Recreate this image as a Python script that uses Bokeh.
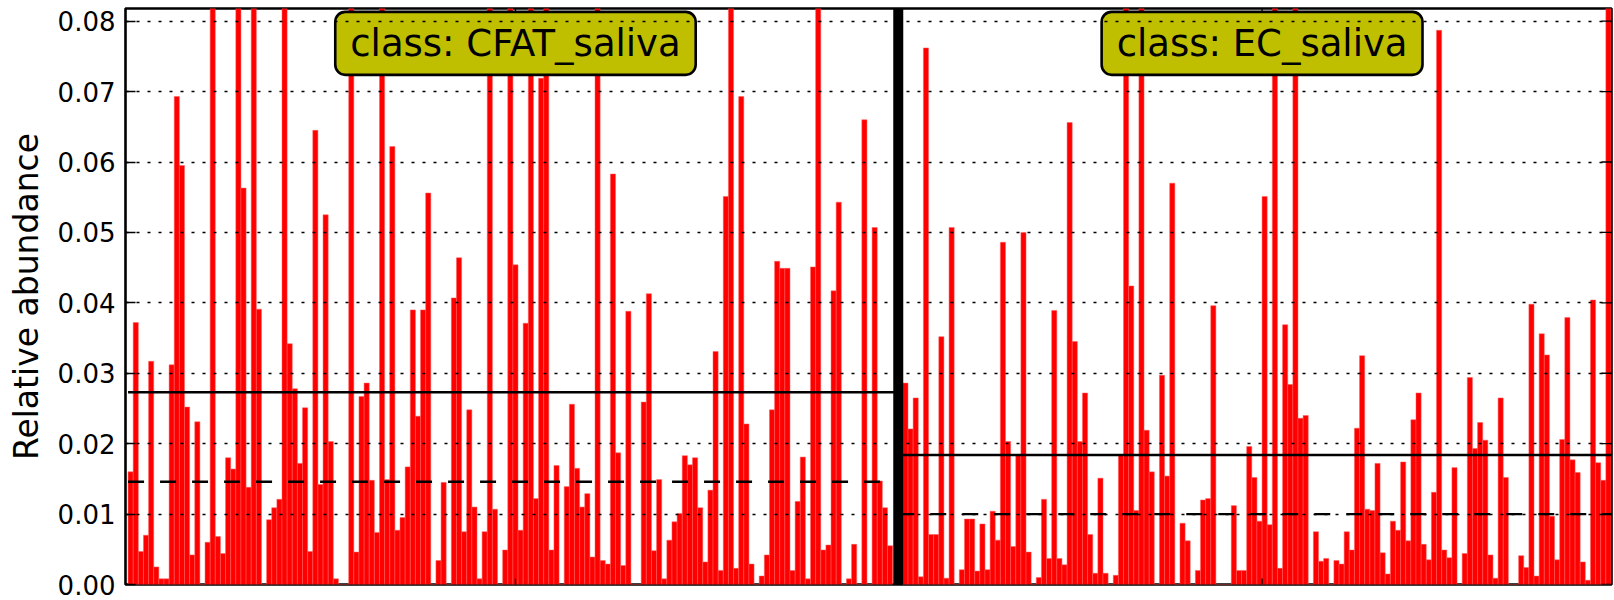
from bokeh.plotting import figure
from bokeh.models import Span, Label, FixedTicker, CustomJSTickFormatter
from bokeh.embed import file_html
from bokeh.resources import INLINE

# ---------------- data ----------------
classes = ["CFAT_saliva", "EC_saliva"]

cfat_values = [
    0.0160, 0.0372, 0.0047, 0.0070, 0.0317, 0.0025, 0.0008, 0.0008, 0.0312, 0.0693,
    0.0595, 0.0252, 0.0042, 0.0231, 0.0000, 0.0060, 0.1150, 0.0068, 0.0044, 0.0180,
    0.0164, 0.0980, 0.0563, 0.0138, 0.1240, 0.0391, 0.0000, 0.0092, 0.0109, 0.0121,
    0.0910, 0.0342, 0.0278, 0.0172, 0.0251, 0.0047, 0.0645, 0.0142, 0.0525, 0.0203,
    0.0008, 0.0000, 0.0000, 0.1030, 0.0046, 0.0267, 0.0286, 0.0148, 0.0074, 0.0890,
    0.0149, 0.0622, 0.0077, 0.0095, 0.0167, 0.0390, 0.0239, 0.0390, 0.0556, 0.0000,
    0.0034, 0.0145, 0.0000, 0.0407, 0.0464, 0.0075, 0.0248, 0.0110, 0.0008, 0.0075,
    0.0960, 0.0107, 0.0000, 0.0049, 0.1080, 0.0454, 0.0077, 0.0371, 0.0870, 0.0122,
    0.0719, 0.1120, 0.0049, 0.0169, 0.0000, 0.0139, 0.0256, 0.0165, 0.0110, 0.0129,
    0.0039, 0.0940, 0.0034, 0.0029, 0.0583, 0.0187, 0.0027, 0.0388, 0.0000, 0.0000,
    0.0259, 0.0413, 0.0048, 0.0149, 0.0008, 0.0063, 0.0089, 0.0101, 0.0183, 0.0170,
    0.0180, 0.0109, 0.0032, 0.0134, 0.0331, 0.0020, 0.0551, 0.1010, 0.0023, 0.0693,
    0.0228, 0.0029, 0.0000, 0.0012, 0.0042, 0.0248, 0.0459, 0.0449, 0.0449, 0.0020,
    0.0118, 0.0181, 0.0008, 0.0451, 0.0920, 0.0049, 0.0056, 0.0417, 0.0543, 0.0000,
    0.0008, 0.0057, 0.0000, 0.0660, 0.0000, 0.0507, 0.0147, 0.0109, 0.0055,
]

ec_values = [
    0.0286, 0.0221, 0.0265, 0.0011, 0.0762, 0.0071, 0.0071, 0.0352, 0.0009, 0.0507,
    0.0000, 0.0021, 0.0093, 0.0093, 0.0019, 0.0086, 0.0021, 0.0104, 0.0063, 0.0486,
    0.0203, 0.0054, 0.0184, 0.0500, 0.0046, 0.0000, 0.0010, 0.0121, 0.0037, 0.0389,
    0.0037, 0.0028, 0.0656, 0.0345, 0.0203, 0.0272, 0.0071, 0.0016, 0.0151, 0.0016,
    0.0000, 0.0013, 0.0184, 0.0990, 0.0424, 0.0105, 0.0880, 0.0219, 0.0160, 0.0000,
    0.0297, 0.0154, 0.0570, 0.0000, 0.0087, 0.0062, 0.0000, 0.0020, 0.0120, 0.0122,
    0.0396, 0.0000, 0.0000, 0.0000, 0.0112, 0.0020, 0.0020, 0.0196, 0.0152, 0.0090,
    0.0551, 0.0085, 0.1060, 0.0023, 0.0369, 0.0284, 0.0930, 0.0236, 0.0240, 0.0000,
    0.0075, 0.0033, 0.0037, 0.0000, 0.0034, 0.0029, 0.0075, 0.0049, 0.0222, 0.0325,
    0.0107, 0.0105, 0.0172, 0.0045, 0.0015, 0.0090, 0.0077, 0.0174, 0.0062, 0.0234,
    0.0272, 0.0057, 0.0035, 0.0131, 0.0787, 0.0049, 0.0038, 0.0166, 0.0000, 0.0044,
    0.0294, 0.0193, 0.0230, 0.0205, 0.0042, 0.0009, 0.0265, 0.0152, 0.0000, 0.0000,
    0.0041, 0.0024, 0.0398, 0.0012, 0.0356, 0.0326, 0.0097, 0.0035, 0.0206, 0.0379,
    0.0177, 0.0159, 0.0032, 0.0006, 0.0404, 0.0173, 0.0148, 0.0950,
]

class_means = [0.0273, 0.0184]
class_medians = [0.0146, 0.0100]

y_ticks = [0.00, 0.01, 0.02, 0.03, 0.04, 0.05, 0.06, 0.07, 0.08]
y_tick_labels = ["0.00", "0.01", "0.02", "0.03", "0.04", "0.05", "0.06", "0.07", "0.08"]
y_label = "Relative abundance"

# ---------------- positions ----------------
n1 = len(cfat_values)
cfat_x = list(range(n1))
sep_x = n1 + 0.6
ec_start = n1 + 2
ec_x = list(range(ec_start, ec_start + len(ec_values)))
x_start = -1.0
x_end = ec_x[-1] + 0.6
y_top = 0.0818
class_centers = [(cfat_x[0] + cfat_x[-1]) / 2 + 1.0, (ec_x[0] + ec_x[-1]) / 2 + 1.0]
seg_x0 = [x_start + 0.5, sep_x]
seg_x1 = [sep_x, x_end]

FONT = "DejaVu Sans"
FW, FH = 1486, 576

p = figure(frame_width=FW, frame_height=FH, x_range=(x_start, x_end), y_range=(0, y_top),
           output_backend="svg", toolbar_location=None,
           min_border_left=125, min_border_right=3, min_border_top=8, min_border_bottom=16)
p.background_fill_color = "white"
p.border_fill_color = "white"
p.outline_line_color = "black"
p.outline_line_width = 2.6

# bars
for xs, vals in ((cfat_x, cfat_values), (ec_x, ec_values)):
    p.vbar(x=xs, top=vals, bottom=0, width=1.0, fill_color="#ff0000",
           line_color="#ff5c5c", line_width=0.5)

# mean (solid) and median (dashed)
p.segment(x0=seg_x0, x1=seg_x1, y0=class_means, y1=class_means, line_color="black", line_width=2.4)
p.segment(x0=seg_x0, x1=seg_x1, y0=class_medians, y1=class_medians, line_color="black",
          line_width=2.4, line_dash="16 16")

# class separator
p.add_layout(Span(location=sep_x, dimension="height", line_color="black", line_width=10))

# class labels
for cx, name in zip(class_centers, classes):
    p.add_layout(Label(x=cx, y=0.07685, text="class: " + name, text_align="center",
                       text_baseline="middle", text_font=FONT, text_font_size="37px",
                       text_color="black", background_fill_color="#bfbf00",
                       border_line_color="black", border_line_width=2.6,
                       padding=(15, 10), border_radius=10))

# grid (drawn over the bars, as in the reference)
p.xgrid.grid_line_color = None
p.ygrid.ticker = FixedTicker(ticks=y_ticks)
p.ygrid.grid_line_color = "black"
p.ygrid.grid_line_width = 1.3
p.ygrid.grid_line_dash = "3 8"
p.ygrid.level = "overlay"

fmt = CustomJSTickFormatter(args=dict(lab=y_tick_labels, tv=y_ticks), code="""
    for (let i = 0; i < tv.length; i++) { if (Math.abs(tick - tv[i]) < 1e-9) return lab[i]; }
    return '';
""")

# left y axis
ya = p.yaxis[0]
ya.ticker = FixedTicker(ticks=y_ticks)
ya.formatter = fmt
ya.axis_label = y_label
ya.axis_label_text_font = FONT
ya.axis_label_text_font_size = "33px"
ya.axis_label_text_font_style = "normal"
ya.axis_label_text_color = "black"
ya.axis_label_standoff = 9
ya.major_label_text_font = FONT
ya.major_label_text_font_size = "26px"
ya.major_label_text_color = "black"
ya.major_label_standoff = 10
ya.major_tick_in = 10
ya.major_tick_out = 0
ya.major_tick_line_width = 1.3
ya.major_tick_line_color = "black"
ya.minor_tick_line_color = None
ya.axis_line_color = None

# no bottom x axis; tick marks on the other three sides are drawn through the scales
p.xaxis.visible = False
px_x = FW / (x_end - x_start)
px_y = FH / y_top
ytick_len = 10 / px_x
xtick_len = 6 / px_y
p.segment(x0=[x_end - ytick_len] * len(y_ticks), x1=[x_end] * len(y_ticks),
          y0=y_ticks, y1=y_ticks, line_color="black", line_width=1.3)
p.segment(x0=class_centers, x1=class_centers, y0=[0] * 2, y1=[xtick_len] * 2,
          line_color="black", line_width=1.3)
p.segment(x0=class_centers, x1=class_centers, y0=[y_top - xtick_len] * 2, y1=[y_top] * 2,
          line_color="black", line_width=1.3)

open("out.html", "w").write(file_html(p, INLINE))
